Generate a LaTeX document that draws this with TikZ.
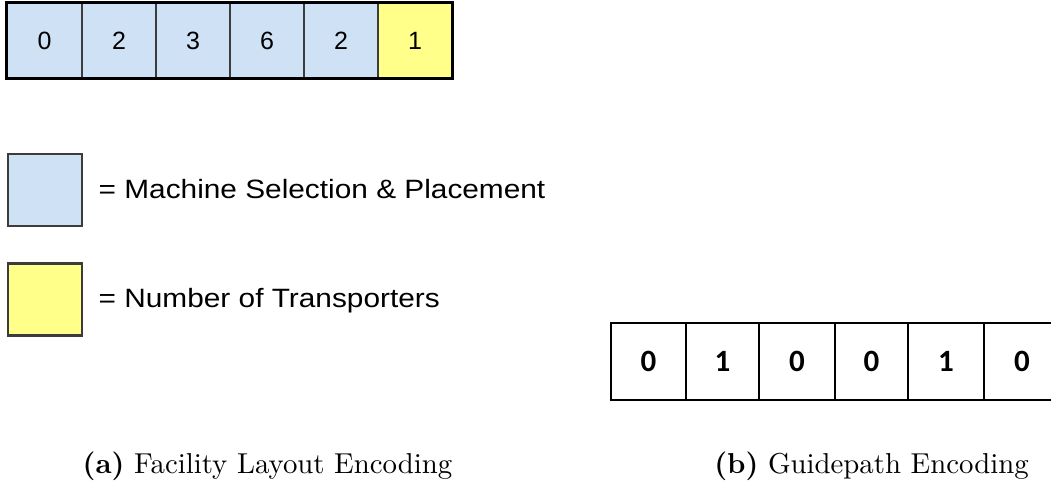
\documentclass[tikz,border=0pt]{standalone}
\usepackage{fontspec}
\newfontfamily\arialfont{Liberation Sans}
\newfontfamily\calfont{Carlito}
\definecolor{cellblue}{RGB}{207,226,245}
\definecolor{cellyellow}{RGB}{255,255,138}
\definecolor{cellline}{RGB}{60,60,60}
\tikzset{
  gene/.style={draw=cellline, line width=1.4pt, inner sep=0pt,
    minimum height=75pt, font=\arialfont\fontsize{25}{28}\selectfont},
  machine/.style={gene, fill=cellblue},
  transp/.style={gene, fill=cellyellow},
  legendbox/.style={draw=cellline, line width=2.6pt, inner sep=0pt,
    minimum width=74pt, minimum height=72pt},
  legendtext/.style={anchor=base west, inner sep=0pt,
    font=\arialfont\fontsize{26.5}{30}\selectfont},
  bit/.style={draw=black, line width=2.8pt, inner sep=0pt, fill=white,
    minimum height=77pt, font=\calfont\bfseries\fontsize{31}{34}\selectfont},
  caption/.style={anchor=base, inner sep=0pt, scale=2.88,
    font=\fontsize{10}{12}\selectfont}
}
\begin{document}
\begin{tikzpicture}[x=1pt, y=-1pt]
\useasboundingbox (0,0) rectangle (1051,483);
\clip (0,0) rectangle (1051,483);

% facility layout chromosome
\node[machine, minimum width=75pt] (a1) at (44.5,40.5) {0};
\node[machine, minimum width=74pt] (a2) at (119,40.5) {2};
\node[machine, minimum width=74pt] (a3) at (193,40.5) {3};
\node[machine, minimum width=74pt] (a4) at (267,40.5) {6};
\node[machine, minimum width=74pt] (a5) at (341,40.5) {2};
\node[transp, minimum width=74pt] (a6) at (415,40.5) {1};
\draw[line width=3.2pt, black] (a1.north west) rectangle (a6.south east);

% legend
\node[legendbox, fill=cellblue] (kb) at (45,190) {};
\node[legendbox, fill=cellyellow] (ky) at (45,299.5) {};
\node[legendtext, xscale=1.125] (tb) at (98.5,198) {= Machine Selection \& Placement};
\node[legendtext, xscale=1.125] (ty) at (98.5,307) {= Number of Transporters};

% guidepath chromosome
\node[bit, minimum width=75pt] (b1) at (648.5,361.5) {0};
\node[bit, minimum width=73pt] (b2) at (722.5,361.5) {1};
\node[bit, minimum width=76pt] (b3) at (797,361.5) {0};
\node[bit, minimum width=73pt] (b4) at (871.5,361.5) {0};
\node[bit, minimum width=76pt] (b5) at (946,361.5) {1};
\node[bit, minimum width=76pt] (b6) at (1022,361.5) {0};

% captions
\node[caption] (ca) at (267.5,473) {\textbf{(a)} Facility Layout Encoding};
\node[caption] (cb) at (871.5,473) {\textbf{(b)} Guidepath Encoding};
\end{tikzpicture}
\end{document}
